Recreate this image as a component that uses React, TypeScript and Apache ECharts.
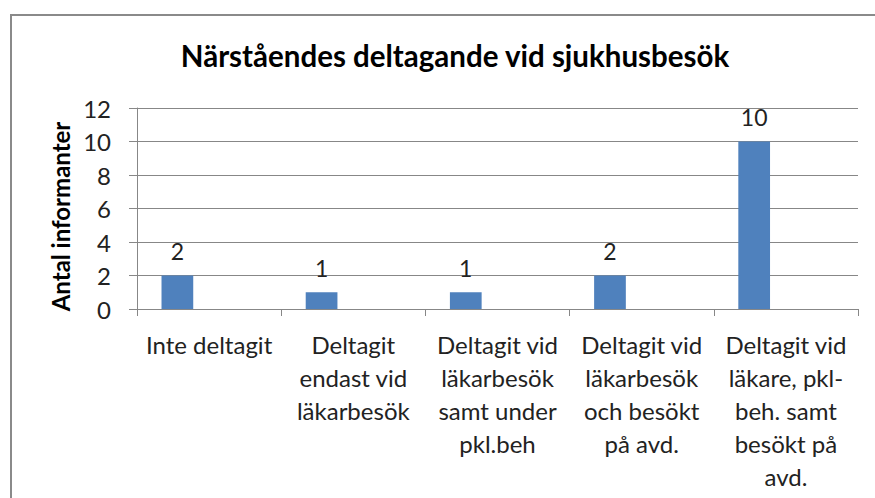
import React, { useEffect, useRef } from "react";
import * as echarts from "echarts";

const titleText = "Närståendes deltagande vid sjukhusbesök";
const yAxisName = "Antal informanter";
const categories = [
  "Inte deltagit",
  "Deltagit\nendast vid\nläkarbesök",
  "Deltagit vid\nläkarbesök\nsamt under\npkl.beh",
  "Deltagit vid\nläkarbesök\noch besökt\npå avd.",
  "Deltagit vid\nläkare, pkl-\nbeh. samt\nbesökt på\navd.",
];
const seriesValues = [2, 1, 1, 2, 10];
const emptySeriesB = [null, null, null, null, null];
const emptySeriesC = [null, null, null, null, null];
const yMin = 0;
const yMax = 12;
const yInterval = 2;

const FONT = "Lato, 'Liberation Sans', sans-serif";
const TEXT = "#222222";
const GRID = "#878787";

export default function App() {
  const ref = useRef<HTMLDivElement>(null);
  useEffect(() => {
    if (!ref.current) return;
    const chart = echarts.init(ref.current, null, { renderer: "svg" });
    chart.setOption({
      animation: false,
      backgroundColor: "#ffffff",
      title: {
        text: titleText,
        left: 450,
        top: 35,
        textAlign: "center",
        textStyle: { fontFamily: FONT, fontSize: 29.5, fontWeight: "bold", color: "#000" },
      },
      graphic: [
        {
          type: "rect",
          shape: { x: 11, y: 15, width: 900, height: 600 },
          style: { fill: "none", stroke: "#8a8a8a", lineWidth: 2 },
          silent: true,
        },
      ],
      grid: { left: 137, right: 17, top: 108, bottom: 189 },
      xAxis: {
        type: "category",
        data: categories,
        axisLine: { show: true, lineStyle: { color: GRID, width: 1 } },
        axisTick: { show: true, length: 7, lineStyle: { color: GRID } },
        axisLabel: {
          interval: 0,
          margin: 19,
          fontFamily: FONT,
          fontSize: 24,
          lineHeight: 33,
          color: TEXT,
          align: "center",
        },
      },
      yAxis: {
        type: "value",
        min: yMin,
        max: yMax,
        interval: yInterval,
        name: yAxisName,
        nameLocation: "middle",
        nameGap: 62,
        nameTextStyle: { fontFamily: FONT, fontSize: 24, fontWeight: "bold", color: "#000", padding: [0, 0, 0, -16] },
        axisLine: { show: true, lineStyle: { color: GRID, width: 1 } },
        axisTick: { show: true, length: 8, lineStyle: { color: GRID } },
        axisLabel: { margin: 26, fontFamily: FONT, fontSize: 24, color: TEXT },
        splitLine: { show: true, lineStyle: { color: GRID, width: 1 } },
      },
      series: [
        {
          type: "bar",
          data: seriesValues,
          barGap: "0%",
          barCategoryGap: "34%",
          itemStyle: { color: "#4F81BD" },
          label: {
            show: true,
            position: "top",
            distance: 13,
            fontFamily: FONT,
            fontSize: 23,
            color: TEXT,
          },
        },
        { type: "bar", data: emptySeriesB, barGap: "0%", barCategoryGap: "34%" },
        { type: "bar", data: emptySeriesC, barGap: "0%", barCategoryGap: "34%" },
      ],
    });
    return () => chart.dispose();
  }, []);
  return (
    <div
      ref={ref}
      style={{ position: "fixed", left: 0, top: 0, width: 875, height: 498 }}
    />
  );
}
